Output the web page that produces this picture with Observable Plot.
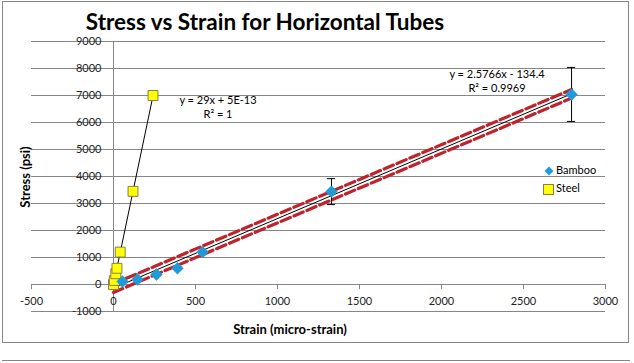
<!DOCTYPE html>
<html>
<head>
<meta charset="utf-8">
<script src="https://cdn.jsdelivr.net/npm/d3@7"></script>
<script src="https://cdn.jsdelivr.net/npm/@observablehq/plot@0.6"></script>
<style>
  html, body { margin: 0; padding: 0; background: #fff; }
  #wrap { position: relative; width: 634px; height: 363px; font-family: Lato, "Open Sans", sans-serif; color: #000; }
  #wrap > svg { position: absolute; left: 0; top: 0; }
  .abs { position: absolute; white-space: nowrap; }
  #title { left: 265px; top: 8px; transform: translateX(-50%); font-size: 22.5px; font-weight: bold; }
  #ylab { left: 25px; top: 177px; transform: translate(-50%, -50%) rotate(-90deg); font-size: 13px; font-weight: bold; }
  #xlab { left: 290px; top: 321px; transform: translateX(-50%); font-size: 13px; font-weight: bold; }
  .eq { font-size: 11px; text-align: center; transform: translateX(-50%); line-height: 14px; }
  .leg { font-size: 11px; line-height: 12px; }
  .sw { display: inline-block; vertical-align: middle; margin-right: 2px; line-height: 0; }
</style>
</head>
<body>
<div id="wrap"></div>
<script>
// ---- data ----
const bambooStrain = [55, 146, 262, 390, 543, 1329, 2793];
const bambooStress = [110, 185, 370, 600, 1200, 3440, 7040];
const bambooErr    = [0, 0, 0, 0, 0, 480, 1000];
const steelStrain  = [0, 5, 14, 21, 41, 119, 241];
const steelStress  = [0, 150, 400, 600, 1200, 3450, 7000];
const bambooFit = {slope: 2.5766, intercept: -134.4, band: 160, label: "y = 2.5766x - 134.4", r2: "R² = 0.9969"};
const steelFit  = {slope: 29, intercept: 0, label: "y = 29x + 5E-13", r2: "R² = 1"};
const xTicks = [-500, 0, 500, 1000, 1500, 2000, 2500, 3000];
const yTicks = [-1000, 0, 1000, 2000, 3000, 4000, 5000, 6000, 7000, 8000, 9000];
const seriesNames = ["Bamboo", "Steel"];

const bamboo = bambooStrain.map((x, i) => ({x, y: bambooStress[i], e: bambooErr[i]}));
const steel = steelStrain.map((x, i) => ({x, y: steelStress[i]}));
const bx = [0, d3.max(bambooStrain)];
const sx = [0, d3.max(steelStrain)];
const fitPts = (f, xs, off = 0) => xs.map(x => ({x, y: f.slope * x + f.intercept + off}));
const errs = bamboo.filter(d => d.e > 0);

const BLUE = "#1f9bd7", RED = "#c0232b", GRID = "#868686";

const chart = Plot.plot({
  width: 634, height: 363,
  marginTop: 41, marginBottom: 52, marginLeft: 31, marginRight: 29,
  x: {domain: [-500, 3000], axis: null},
  y: {domain: [-1000, 9000], axis: null},
  style: {fontFamily: "Lato, sans-serif", overflow: "visible"},
  marks: [
    Plot.ruleY(yTicks, {stroke: GRID, strokeWidth: 1}),
    Plot.ruleX([0], {stroke: GRID, strokeWidth: 1}),
    Plot.ruleX(xTicks, {y1: 0, y2: -190, stroke: GRID}),
    Plot.text(yTicks, {x: 0, y: d => d, text: d => String(d), dx: -12, textAnchor: "end", fontSize: 11, fill: "#222"}),
    Plot.text(xTicks, {x: d => d, y: 0, text: d => String(d), dy: 17, fontSize: 11, fill: "#222"}),
    // bamboo dashed band lines
    Plot.line(fitPts(bambooFit, bx, bambooFit.band), {x: "x", y: "y", stroke: RED, strokeWidth: 3.2, strokeDasharray: "10,4"}),
    Plot.line(fitPts(bambooFit, bx, -bambooFit.band), {x: "x", y: "y", stroke: RED, strokeWidth: 3.2, strokeDasharray: "10,4"}),
    Plot.line(fitPts(bambooFit, bx), {x: "x", y: "y", stroke: "#000", strokeWidth: 1}),
    Plot.line(fitPts(steelFit, sx), {x: "x", y: "y", stroke: "#000", strokeWidth: 1}),
    // error bars
    Plot.ruleX(errs, {x: "x", y1: d => d.y - d.e, y2: d => d.y + d.e, stroke: "#000"}),
    Plot.ruleY(errs, {y: d => d.y + d.e, x1: d => d.x - 25, x2: d => d.x + 25, stroke: "#000"}),
    Plot.ruleY(errs, {y: d => d.y - d.e, x1: d => d.x - 25, x2: d => d.x + 25, stroke: "#000"}),
    // points
    Plot.dot(steel, {x: "x", y: "y", symbol: "square", r: 5.6, fill: "#ffff00", stroke: "#8a7d4a", strokeWidth: 1}),
    Plot.dot(bamboo, {x: "x", y: "y", symbol: "diamond2", r: 5.6, fill: BLUE, stroke: "none"})
  ]
});

const wrap = document.getElementById("wrap");
wrap.appendChild(chart);

// outer border
const svg = d3.select(chart);
svg.append("rect").attr("x", 2.5).attr("y", 1.5).attr("width", 626).attr("height", 341)
  .attr("fill", "none").attr("stroke", GRID);
svg.append("line").attr("x1", 2).attr("x2", 630).attr("y1", 360.5).attr("y2", 360.5).attr("stroke", GRID);

function addDiv(id, cls, html, style) {
  const d = document.createElement("div");
  if (id) d.id = id;
  d.className = "abs " + (cls || "");
  d.innerHTML = html;
  if (style) Object.assign(d.style, style);
  wrap.appendChild(d);
  return d;
}
addDiv("title", "", "Stress vs Strain for Horizontal Tubes");
addDiv("ylab", "", "Stress (psi)");
addDiv("xlab", "", "Strain (micro-strain)");
addDiv(null, "eq", steelFit.label + "<br>" + steelFit.r2, {left: "218px", top: "93px"});
addDiv(null, "eq", bambooFit.label + "<br>" + bambooFit.r2, {left: "497px", top: "67px"});
addDiv(null, "leg",
  `<span class="sw"><svg width="10" height="10"><path d="M5,0.5L9.5,5L5,9.5L0.5,5Z" fill="${BLUE}"/></svg></span>${seriesNames[0]}`,
  {left: "544px", top: "164px"});
addDiv(null, "leg",
  `<span class="sw"><svg width="11" height="11"><rect x="0.5" y="0.5" width="10" height="10" fill="#ffff00" stroke="#8a7d4a"/></svg></span>${seriesNames[1]}`,
  {left: "543px", top: "182px"});
</script>
</body>
</html>
